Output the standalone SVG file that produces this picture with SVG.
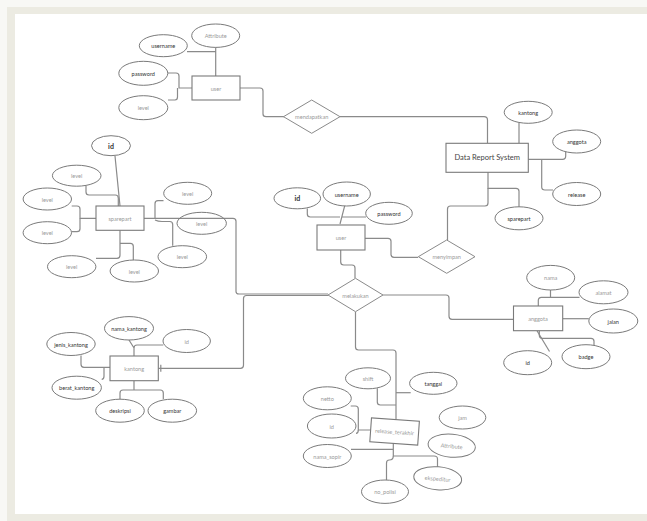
<svg xmlns="http://www.w3.org/2000/svg" width="647" height="521" viewBox="0 0 647 521">
<style>
.e{fill:#fff;stroke:#7a7a7a;stroke-width:1}
.r{fill:#fff;stroke:#7a7a7a;stroke-width:1.1}
.d{fill:#fff;stroke:#8a8a8a;stroke-width:1}
.c path{fill:none;stroke:#8a8a8a;stroke-width:1.2;stroke-linejoin:round}
text{font-family:Lato,"Liberation Sans",sans-serif;font-size:5.6px;text-anchor:middle;dominant-baseline:central}
.k{fill:#333}
.g{fill:#9a9a9a}
.b{font-size:7px;font-weight:bold;fill:#333}
.t{font-size:7.5px;fill:#444}
</style>
<rect x="0" y="0" width="647" height="521" fill="#f8f8f5"/>
<rect x="7" y="7" width="640" height="514" fill="#ecebe2"/>
<rect x="15" y="14" width="632" height="500" fill="#fff"/>

<g class="c" id="connectors">
<!-- top user -->
<path d="M187,51.7 H215.5 M215.7,47 V76"/>
<path d="M168,73 H176 Q179,73 179,76 V88 H192"/>
<path d="M168,100 H175 Q177.5,100 177.5,97 V88"/>
<path d="M240,88 H260 Q263,88 263,91 V114 Q263,116.7 266,116.7 H284"/>
<path d="M340,116.7 H484 Q487.5,116.7 487.5,120 V143"/>
<!-- DRS -->
<path d="M519,123 V143"/>
<path d="M528,159.3 H562.5 Q565.7,159.3 565.7,156 V152"/>
<path d="M541.7,159.3 V187 Q541.7,190 545,190 H553"/>
<path d="M488,172 V188.3 H516 Q519,188.3 519,191.3 V207"/>
<path d="M488,188 V203 Q488,206 485,206 H450.5 Q447.5,206 447.5,209 V240"/>
<!-- mid user -->
<path d="M365,238.3 H388 Q391,238.3 391,241.3 V254.3 Q391,257.3 394,257.3 H418"/>
<path d="M340.7,250 V262 Q340.7,265 343.7,265 H352 Q355,265 355,268 V278.3"/>
<path d="M307.3,208.5 V214 Q307.3,217 310.3,217 H340 M345,204.7 L340,224 M366,217 H341.5"/>
<!-- melakukan -->
<path d="M144,218.3 H233 Q236,218.3 236,221.3 V291.5 Q236,294 239,294 H328"/>
<path d="M328,295.5 H246.5 Q243.5,295.5 243.5,298.5 V365.3 Q243.5,368.3 240.5,368.3 H158.3"/>
<path d="M160.8,364.8 V371.8"/>
<path d="M383,295 H446 Q449,295 449,298 V316.3 Q449,319.3 452,319.3 H513.5"/>
<path d="M355.5,311.7 V347 Q355.5,350 358.5,350 H393 Q396,350 396,353 V419"/>
<!-- anggota -->
<path d="M550.5,290 V297.3 M579.5,297.3 H541.5 Q538.3,297.3 538.3,300.5 V306"/>
<path d="M562.7,318.7 H588.8"/>
<path d="M539.3,330.7 V335.3 Q539.3,338.3 542.3,338.3 H591 Q594,338.3 594,341.3 V345"/>
<path d="M537,330.7 L549.5,351.5"/>
<!-- sparepart -->
<path d="M115,156 L120,206"/>
<path d="M86,186 V192 Q86,195 89,195 H115.3 Q118.3,195 118.3,198 V206"/>
<path d="M71.7,206 H77 Q80,206 80,209 V218.3 H96"/>
<path d="M71.7,231.7 H77 Q80,231.7 80,228.7 V218.3"/>
<path d="M120,230 V255.3 Q120,258.3 117,258.3 H96"/>
<path d="M120,243.3 H130.3 Q133.3,243.3 133.3,246.3 V260"/>
<path d="M163.5,200.7 H158 Q155,200.7 155,203.7 V218.3"/>
<path d="M155,220 Q158,221.5 162,221.5 H169.7 Q172.7,221.5 172.7,224.5 V245.7"/>
<!-- kantong -->
<path d="M163.3,345 H137 Q134,345 134,348 V356 M129,340 L134,348"/>
<path d="M81,355.5 V364.3 Q81,367.3 84,367.3 H110"/>
<path d="M101.7,379.3 Q104,379.3 104,376.3 V367.3"/>
<path d="M134,380.7 V390 M120,399 V393 Q120,390 123,390 H160.3 Q163.3,390 163.3,393 V399"/>
<!-- release_terakhir -->
<path d="M410.7,392.7 H396"/>
<path d="M377.3,388.3 V402 Q377.3,405 380.3,405 H396"/>
<path d="M350.7,406 H355.3 Q358.3,406 358.3,409 V430 H371"/>
<path d="M356,433.3 Q358.3,433.3 358.3,430"/>
<path d="M351,449.3 H393.3"/>
<path d="M393.3,443 V456 H434"/>
<path d="M434,456 Q437.5,456 437.5,459 V467"/>
<path d="M393.3,456 Q393.3,460 389.3,460 Q386.5,460 386.5,463 V480"/>
</g>

<g id="user_top"><rect class="r" x="192" y="76" width="48" height="24"/><text class="g" x="216" y="88">user</text></g>
<g id="user_attribute"><ellipse class="e" cx="215.7" cy="35.7" rx="24" ry="11.7"/><text class="g" x="215.7" y="35.7">Attribute</text></g>
<g id="user_username"><ellipse class="e" cx="163.3" cy="45.7" rx="24" ry="11"/><text class="k" x="163.3" y="45.7">username</text></g>
<g id="user_password"><ellipse class="e" cx="143.3" cy="73.3" rx="24.5" ry="12"/><text class="k" x="143.3" y="73.3">password</text></g>
<g id="user_level"><ellipse class="e" cx="143.3" cy="107.7" rx="24.5" ry="12"/><text class="g" x="143.3" y="107.7">level</text></g>

<g id="mendapatkan"><polygon class="d" points="283.5,116.7 311.7,100 340,116.7 311.7,133.3"/><text class="g" x="311.7" y="116.7">mendapatkan</text></g>

<g id="drs"><rect class="r" x="446" y="143.3" width="82.3" height="29"/><text class="t" x="487.2" y="157.8">Data Report System</text></g>
<g id="drs_kantong"><ellipse class="e" cx="528.2" cy="112.3" rx="24" ry="11"/><text class="k" x="528.2" y="112.3">kantong</text></g>
<g id="drs_anggota"><ellipse class="e" cx="576.7" cy="141.5" rx="24" ry="11.5"/><text class="k" x="576.7" y="141.5">anggota</text></g>
<g id="drs_release"><ellipse class="e" cx="576.7" cy="194" rx="24" ry="11.5"/><text class="k" x="576.7" y="194">release</text></g>
<g id="drs_sparepart"><ellipse class="e" cx="519" cy="218.3" rx="24" ry="11.5"/><text class="k" x="519" y="218.3">sparepart</text></g>

<g id="menyimpan"><polygon class="d" points="418.3,256.7 446.7,240 475,256.7 446.7,273.3"/><text class="g" x="446.7" y="256.7">menyimpan</text></g>

<g id="user_mid"><rect class="r" x="317" y="225" width="48" height="25"/><text class="g" x="341" y="237.5">user</text></g>
<g id="um_id"><ellipse class="e" cx="297.3" cy="198.3" rx="23.3" ry="10.5"/><text class="b" x="297.3" y="198.3">id</text></g>
<g id="um_username"><ellipse class="e" cx="346.7" cy="194" rx="23.7" ry="12"/><text class="k" x="346.7" y="194">username</text></g>
<g id="um_password"><ellipse class="e" cx="389" cy="213.3" rx="23.3" ry="11"/><text class="k" x="389" y="213.3">password</text></g>

<g id="melakukan"><polygon class="d" points="328,295 355.5,278.3 383,295 355.5,311.7"/><text class="g" x="355.5" y="295">melakukan</text></g>

<g id="sparepart"><rect class="r" x="96" y="206" width="48" height="24.3"/><text class="g" x="120" y="218.2">sparepart</text></g>
<g id="sp_id"><ellipse class="e" cx="111" cy="145.7" rx="19.5" ry="10"/><text class="b" x="111" y="145.7">id</text></g>
<g id="sp_level1"><ellipse class="e" cx="76.7" cy="175.7" rx="24.3" ry="10.5"/><text class="g" x="76.7" y="175.7">level</text></g>
<g id="sp_level2"><ellipse class="e" cx="47.3" cy="199" rx="24.2" ry="11"/><text class="g" x="47.3" y="199">level</text></g>
<g id="sp_level3"><ellipse class="e" cx="47.3" cy="232.7" rx="24.2" ry="11"/><text class="g" x="47.3" y="232.7">level</text></g>
<g id="sp_level4"><ellipse class="e" cx="71.7" cy="266.7" rx="24.2" ry="11"/><text class="g" x="71.7" y="266.7">level</text></g>
<g id="sp_level5"><ellipse class="e" cx="134.3" cy="271" rx="24.2" ry="11"/><text class="g" x="134.3" y="271">level</text></g>
<g id="sp_level6"><ellipse class="e" cx="187.7" cy="193.3" rx="24" ry="11"/><text class="g" x="187.7" y="193.3">level</text></g>
<g id="sp_level7"><ellipse cx="201.7" cy="223.3" rx="24.7" ry="11" fill="none" stroke="#7a7a7a" stroke-width="1"/><text class="g" x="201.7" y="223.3">level</text></g>
<g id="sp_level8"><ellipse class="e" cx="182.3" cy="256.7" rx="24.3" ry="11"/><text class="g" x="182.3" y="256.7">level</text></g>

<g id="kantong"><rect class="r" x="110" y="356" width="48.3" height="24.7"/><text class="g" x="134.2" y="368.4">kantong</text></g>
<g id="k_nama"><ellipse class="e" cx="129" cy="328.3" rx="24.5" ry="11.7"/><text class="k" x="129" y="328.3">nama_kantong</text></g>
<g id="k_id"><ellipse class="e" cx="186.7" cy="341" rx="23.7" ry="11.5"/><text class="g" x="186.7" y="341">id</text></g>
<g id="k_jenis"><ellipse class="e" cx="71" cy="344" rx="24.2" ry="11.5"/><text class="k" x="71" y="344">jenis_kantong</text></g>
<g id="k_berat"><ellipse class="e" cx="76.7" cy="387.7" rx="24.7" ry="11.5"/><text class="k" x="76.7" y="387.7">berat_kantong</text></g>
<g id="k_deskripsi"><ellipse class="e" cx="120" cy="410.7" rx="24.3" ry="11.5"/><text class="k" x="120" y="410.7">deskripsi</text></g>
<g id="k_gambar"><ellipse class="e" cx="172.3" cy="410.7" rx="24.3" ry="11.5"/><text class="k" x="172.3" y="410.7">gambar</text></g>

<g id="anggota"><rect class="r" x="513.5" y="306" width="49.2" height="24.7"/><text class="g" x="538" y="318.4">anggota</text></g>
<g id="a_nama"><ellipse class="e" cx="550.7" cy="277.7" rx="24" ry="12.3"/><text class="g" x="550.7" y="277.7">nama</text></g>
<g id="a_alamat"><ellipse class="e" cx="603.5" cy="292.3" rx="24.5" ry="11.5"/><text class="g" x="603.5" y="292.3">alamat</text></g>
<g id="a_jalan"><ellipse class="e" cx="613.3" cy="321" rx="24.5" ry="12"/><text class="k" x="613.3" y="321">jalan</text></g>
<g id="a_badge"><ellipse class="e" cx="586" cy="356.7" rx="24" ry="12"/><text class="k" x="586" y="356.7">badge</text></g>
<g id="a_id"><ellipse class="e" cx="527.7" cy="362.7" rx="24" ry="12"/><text class="k" x="527.7" y="362.7">id</text></g>

<g id="release_terakhir" transform="rotate(4 394.6 431.5)"><rect class="r" x="370.6" y="419.5" width="48" height="24"/><text class="g" x="394.6" y="431.5">release_terakhir</text></g>
<g id="r_shift"><ellipse class="e" cx="368" cy="378.3" rx="22.5" ry="10.5"/><text class="g" x="368" y="378.3">shift</text></g>
<g id="r_tanggal"><ellipse class="e" cx="433.3" cy="383.3" rx="23.7" ry="11"/><text class="k" x="433.3" y="383.3">tanggal</text></g>
<g id="r_netto"><ellipse class="e" cx="327.3" cy="398.3" rx="24" ry="11.5"/><text class="g" x="327.3" y="398.3">netto</text></g>
<g id="r_id"><ellipse class="e" cx="331.7" cy="426" rx="24.3" ry="12"/><text class="g" x="331.7" y="426">id</text></g>
<g id="r_jam"><ellipse class="e" cx="462.5" cy="417.5" rx="23.3" ry="11.5"/><text class="g" x="462.5" y="417.5">jam</text></g>
<g id="r_attribute" transform="rotate(5 451.7 445.7)"><ellipse class="e" cx="451.7" cy="445.7" rx="23.7" ry="11.5"/><text class="g" x="451.7" y="445.7">Attribute</text></g>
<g id="r_nama_sopir"><ellipse class="e" cx="327.3" cy="456" rx="24" ry="11.5"/><text class="g" x="327.3" y="456">nama_sopir</text></g>
<g id="r_ekspeditur" transform="rotate(5 437.7 478.3)"><ellipse class="e" cx="437.7" cy="478.3" rx="24" ry="11.5"/><text class="g" x="437.7" y="478.3">ekspeditur</text></g>
<g id="r_no_polisi"><ellipse class="e" cx="385" cy="491.7" rx="23.5" ry="11.7"/><text class="g" x="385" y="491.7">no_polisi</text></g>
</svg>
